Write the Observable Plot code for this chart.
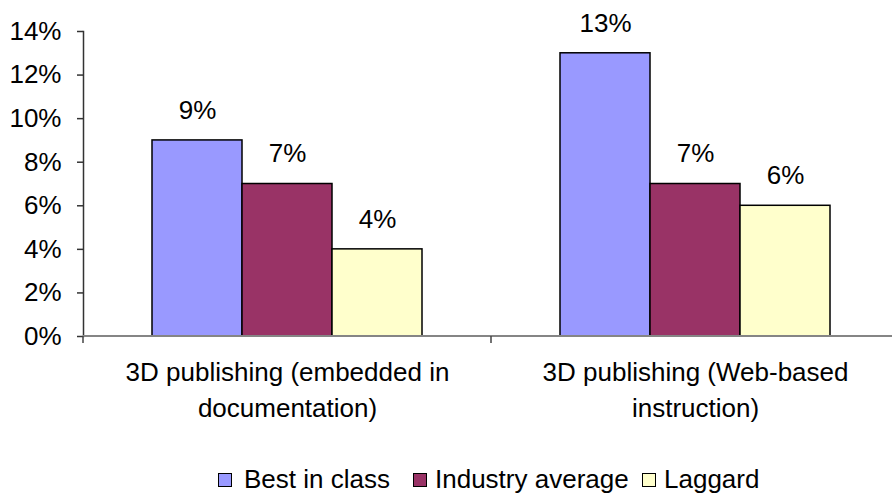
<!DOCTYPE html>
<html>
<head>
<meta charset="utf-8">
<script src="https://cdn.jsdelivr.net/npm/d3@7"></script>
<script src="https://cdn.jsdelivr.net/npm/@observablehq/plot@0.6"></script>
<style>
  html, body { margin: 0; padding: 0; background: #fff; overflow: hidden; }
  #chart svg { display: block; }
  #legend { position: relative; height: 30px; margin-top: 4px; font-family: "Liberation Sans", Arial, sans-serif; font-size: 26px; line-height: 30px; color: #000; }
  #legend .sw { position: absolute; top: 9px; width: 12px; height: 12px; border: 1px solid #000; }
  #legend .lab { position: absolute; top: 0; white-space: nowrap; }
</style>
</head>
<body>
<div id="chart"></div>
<div id="legend"></div>
<script>
const categories = ["3D publishing (embedded in documentation)", "3D publishing (Web-based instruction)"];
const categoryLabels = ["3D publishing (embedded in\ndocumentation)", "3D publishing (Web-based\ninstruction)"];
const seriesNames = ["Best in class", "Industry average", "Laggard"];
const bestInClass = [9, 13];
const industryAverage = [7, 7];
const laggard = [4, 6];
const seriesColors = ["#9999FF", "#993366", "#FFFFCC"];
const yTicks = [0, 2, 4, 6, 8, 10, 12, 14];

const seriesValues = [bestInClass, industryAverage, laggard];
const data = categories.flatMap((c, i) =>
  seriesNames.map((s, j) => ({category: c, series: s, value: seriesValues[j][i]}))
);

// drawn in every facet: baseline segment and the category boundary tick at the facet's left edge
const facetBaseline = (index, scales, values, dimensions) => {
  const {width, marginLeft, marginRight} = dimensions;
  const y0 = scales.y(0);
  const g = d3.create("svg:g").attr("fill", "none");
  g.append("line").attr("x1", marginLeft).attr("x2", width - marginRight)
    .attr("y1", y0).attr("y2", y0).attr("stroke", "#858585").attr("stroke-width", 2);
  g.append("line").attr("x1", marginLeft).attr("x2", marginLeft).attr("y1", y0).attr("y2", y0 + 7)
    .attr("stroke", "#444").attr("stroke-width", 1.5);
  return g.node();
};

const chart = Plot.plot({
  width: 892,
  height: 460,
  marginLeft: 83,
  marginRight: -7,
  marginTop: 31,
  marginBottom: 124,
  style: {fontFamily: "'Liberation Sans', Arial, sans-serif", fontSize: "26px", color: "#000", background: "#fff", overflow: "visible"},
  fx: {domain: categories, padding: 0, label: null},
  x: {domain: seriesNames, paddingInner: 0, paddingOuter: 0.745, axis: null},
  y: {domain: [0, 14], label: null},
  color: {domain: seriesNames, range: seriesColors},
  marks: [
    Plot.barY(data, {fx: "category", x: "series", y: "value", fill: "series", stroke: "#000", strokeWidth: 1.5}),
    Plot.text(data, {fx: "category", x: "series", y: "value", text: d => d.value + "%", dy: -30, fontSize: 26, fill: "#000"}),
    Plot.frame({anchor: "left", facetAnchor: "left", stroke: "#333", strokeWidth: 1.5}),
    Plot.axisY({ticks: yTicks, tickFormat: d => d + "%", tickSize: 6, tickPadding: 16, fontSize: 26, label: null, stroke: "#333", strokeWidth: 1.5}),
    Plot.axisFx({anchor: "bottom", tickSize: 0, tickPadding: 19, fontSize: 26, lineHeight: 1.385, label: null,
      tickFormat: d => categoryLabels[categories.indexOf(d)]}),
    facetBaseline
  ]
});
document.getElementById("chart").appendChild(chart);

const legend = document.getElementById("legend");
const swatchLeft = [218, 413, 642];
const labelLeft = [244, 435, 664];
seriesNames.forEach((s, i) => {
  const sw = document.createElement("div");
  sw.className = "sw";
  sw.style.left = swatchLeft[i] + "px";
  sw.style.background = seriesColors[i];
  const t = document.createElement("span");
  t.className = "lab";
  t.style.left = labelLeft[i] + "px";
  t.textContent = s;
  legend.appendChild(sw);
  legend.appendChild(t);
});
</script>
</body>
</html>
